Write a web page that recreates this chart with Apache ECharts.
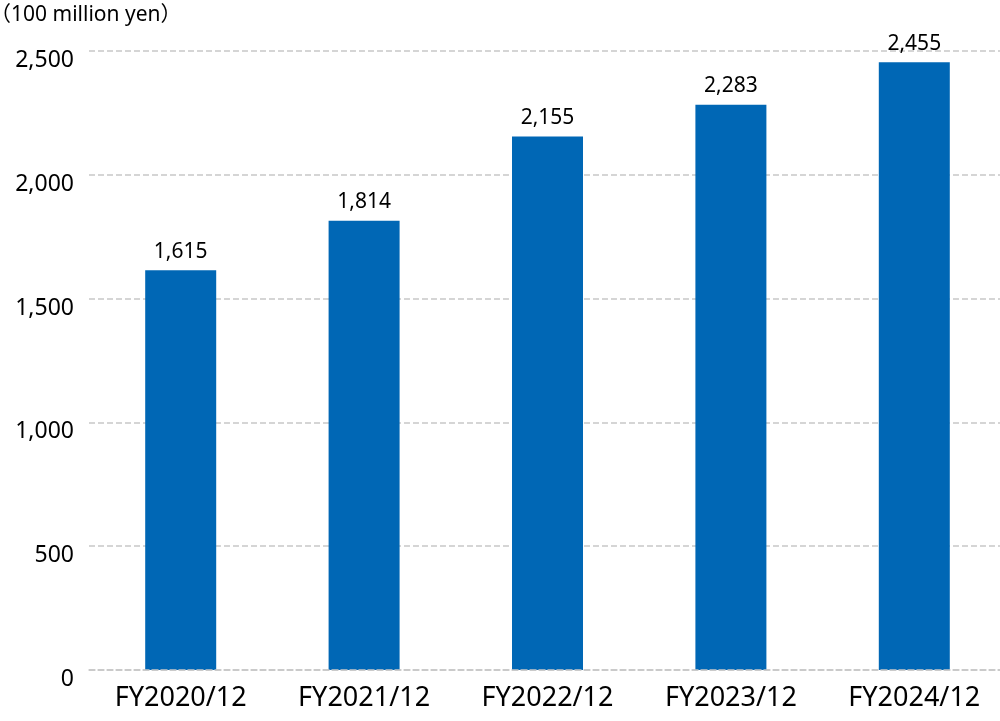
<!DOCTYPE html>
<html><head><meta charset="utf-8">
<script src="https://cdn.jsdelivr.net/npm/echarts@6/dist/echarts.min.js"></script>
<style>html,body{margin:0;padding:0;background:#fff}#c{width:1000px;height:721px}</style>
</head><body><div id="c"></div>
<script>
const categories = ["FY2020/12","FY2021/12","FY2022/12","FY2023/12","FY2024/12"];
const values = [1615, 1814, 2155, 2283, 2455];
const unitLabel = "（100 million yen）";
const FONT = "'Noto Sans', 'Noto Sans CJK JP', sans-serif";
const chart = echarts.init(document.getElementById('c'), null, {renderer:'canvas'});
chart.setOption({
  animation:false,
  textStyle:{fontFamily:FONT},
  title:{text:unitLabel,left:-10,top:5,padding:0,textStyle:{fontSize:21,fontWeight:'normal',color:'#000',fontFamily:FONT}},
  grid:{left:89,top:51,width:917,bottom:51,containLabel:false,outerBoundsMode:'none'},
  xAxis:{type:'category',data:categories,z:5,
    axisLine:{show:true,lineStyle:{color:'#c8c8c8',type:[6,3],width:1.5}},axisTick:{show:false},
    axisLabel:{fontSize:27,color:'#000',margin:15,fontFamily:FONT}},
  yAxis:{type:'value',min:0,max:2500,interval:500,z:0,
    axisLine:{show:false},axisTick:{show:false},
    axisLabel:{fontSize:23,color:'#000',margin:15,fontFamily:FONT,verticalAlign:'top',lineHeight:19,
      formatter:v=>v.toLocaleString('en-US')},
    splitLine:{show:true,lineStyle:{color:'#c8c8c8',type:[6,3],width:1.5}}},
  series:[{type:'bar',data:values,barWidth:71,z:2,
    itemStyle:{color:'#0067b5'},
    label:{show:true,position:'top',distance:8,fontSize:21,color:'#000',fontFamily:FONT,
      formatter:p=>p.value.toLocaleString('en-US')}}]
});
</script></body></html>
